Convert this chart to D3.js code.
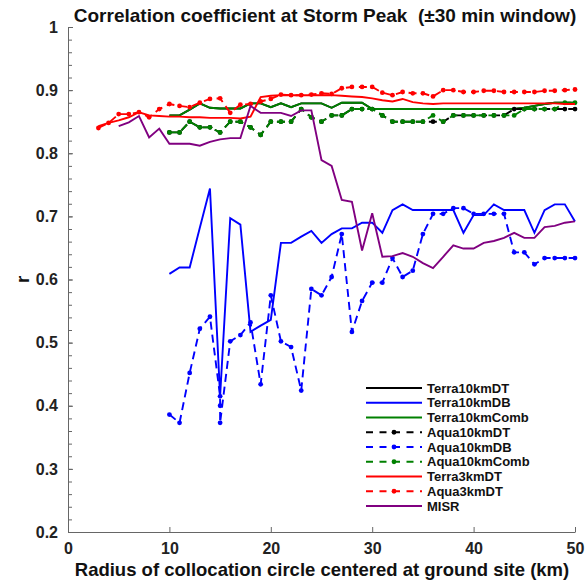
<!DOCTYPE html>
<html>
<head>
<meta charset="utf-8">
<script src="https://cdn.jsdelivr.net/npm/d3@7"></script>
<style>
  body { margin: 0; background: #fff; }
  text { font-family: "Liberation Sans", Arial, sans-serif; font-weight: bold; }
</style>
</head>
<body>
<svg></svg>
<script>
// values (r against collocation radius in km)
const kmFrom10 = d3.range(10, 51);
const kmFrom3 = d3.range(3, 51);
const kmFrom5 = d3.range(5, 51);
const kmAquaDB = [10, 11, 12, 13, 14, 15, 15, 15, 16, 17, 18, 19, 20, 21, 22, 23, 24, 25, 26, 27, 28, 29, 30,
  31, 32, 33, 34, 35, 36, 37, 38, 39, 40, 41, 42, 43, 44, 45, 46, 47, 48, 49, 50];

const terra10kmDT = [0.860, 0.860, 0.869, 0.879, 0.872, 0.871, 0.871, 0.871, 0.879, 0.879, 0.873, 0.879, 0.873, 0.879,
  0.879, 0.879, 0.872, 0.880, 0.880, 0.880, 0.870, 0.870, 0.870, 0.870, 0.870, 0.870, 0.870, 0.870, 0.870, 0.870,
  0.870, 0.870, 0.870, 0.870, 0.870, 0.872, 0.875, 0.878, 0.880, 0.880, 0.880];
const terra10kmDB = [0.609, 0.619, 0.619, 0.682, 0.744, 0.415, 0.697, 0.687, 0.517, 0.527, 0.536, 0.658, 0.658, 0.668,
  0.677, 0.658, 0.672, 0.681, 0.681, 0.690, 0.690, 0.674, 0.710, 0.719, 0.710, 0.710, 0.710, 0.710, 0.710, 0.674,
  0.702, 0.702, 0.719, 0.710, 0.710, 0.710, 0.674, 0.710, 0.719, 0.719, 0.692];
const terra10kmComb = [0.860, 0.860, 0.869, 0.879, 0.872, 0.871, 0.871, 0.871, 0.879, 0.879, 0.873, 0.879, 0.873, 0.879,
  0.879, 0.879, 0.872, 0.880, 0.880, 0.880, 0.870, 0.870, 0.870, 0.870, 0.870, 0.870, 0.870, 0.870, 0.870, 0.870,
  0.870, 0.870, 0.870, 0.870, 0.870, 0.872, 0.875, 0.878, 0.880, 0.880, 0.880];
const aqua10kmDT = [0.833, 0.833, 0.850, 0.841, 0.841, 0.833, 0.850, 0.850, 0.841, 0.829, 0.850, 0.850, 0.850, 0.870,
  0.857, 0.850, 0.860, 0.860, 0.870, 0.870, 0.870, 0.860, 0.850, 0.850, 0.850, 0.850, 0.850, 0.850, 0.860, 0.860,
  0.860, 0.860, 0.860, 0.860, 0.870, 0.870, 0.870, 0.870, 0.870, 0.870, 0.870];
const aqua10kmDB = [0.386, 0.373, 0.452, 0.522, 0.541, 0.415, 0.400, 0.373, 0.502, 0.512, 0.532, 0.434, 0.575, 0.502,
  0.493, 0.424, 0.585, 0.575, 0.604, 0.672, 0.517, 0.566, 0.595, 0.595, 0.634, 0.604, 0.614, 0.672, 0.704, 0.704,
  0.713, 0.713, 0.704, 0.704, 0.704, 0.704, 0.643, 0.643, 0.624, 0.634, 0.634, 0.634, 0.634];
const aqua10kmComb = [0.833, 0.833, 0.850, 0.841, 0.841, 0.833, 0.850, 0.850, 0.841, 0.829, 0.850, 0.850, 0.850, 0.870,
  0.857, 0.850, 0.860, 0.860, 0.870, 0.870, 0.870, 0.860, 0.850, 0.850, 0.850, 0.850, 0.860, 0.850, 0.860, 0.860,
  0.860, 0.860, 0.860, 0.860, 0.860, 0.870, 0.870, 0.870, 0.870, 0.880, 0.880];
const terra3kmDT = [0.843, 0.848, 0.852, 0.857, 0.865, 0.860, 0.859, 0.858, 0.858, 0.857, 0.857, 0.856, 0.856, 0.856,
  0.855, 0.858, 0.889, 0.891, 0.892, 0.892, 0.892, 0.892, 0.892, 0.892, 0.891, 0.890, 0.889, 0.887, 0.884, 0.882,
  0.886, 0.881, 0.879, 0.878, 0.879, 0.879, 0.879, 0.879, 0.879, 0.879, 0.879, 0.879, 0.879, 0.879, 0.879, 0.879,
  0.878, 0.878];
const aqua3kmDT = [0.840, 0.848, 0.862, 0.862, 0.865, 0.857, 0.870, 0.878, 0.875, 0.873, 0.880, 0.886, 0.887, 0.864,
  0.877, 0.878, 0.882, 0.886, 0.893, 0.892, 0.892, 0.893, 0.895, 0.894, 0.903, 0.905, 0.905, 0.905, 0.896, 0.892,
  0.897, 0.895, 0.895, 0.890, 0.900, 0.900, 0.897, 0.897, 0.899, 0.899, 0.897, 0.897, 0.897, 0.897, 0.899, 0.899,
  0.900, 0.901];
const misr = [0.843, 0.849, 0.859, 0.825, 0.839, 0.815, 0.815, 0.815, 0.812, 0.818, 0.822, 0.824, 0.824, 0.875,
  0.864, 0.864, 0.864, 0.859, 0.868, 0.868, 0.789, 0.780, 0.726, 0.723, 0.646, 0.705, 0.636, 0.637, 0.642, 0.636,
  0.626, 0.618, 0.636, 0.654, 0.649, 0.649, 0.658, 0.661, 0.666, 0.674, 0.666, 0.666, 0.683, 0.685, 0.690, 0.692];

const xTicks = [0, 10, 20, 30, 40, 50];
const yTicks = [0.2, 0.3, 0.4, 0.5, 0.6, 0.7, 0.8, 0.9, 1];

const width = 587, height = 581;
const plotLeft = 68, plotRight = 575, plotTop = 27, plotBottom = 532;
const lineW = 1.9, dotR = 2.4;

const series = [
  { name: "Terra10kmDT", xs: kmFrom10, ys: terra10kmDT, color: "#000000", dashed: false },
  { name: "Terra10kmDB", xs: kmFrom10, ys: terra10kmDB, color: "#0000ff", dashed: false },
  { name: "Terra10kmComb", xs: kmFrom10, ys: terra10kmComb, color: "#008000", dashed: false },
  { name: "Aqua10kmDT", xs: kmFrom10, ys: aqua10kmDT, color: "#000000", dashed: true },
  { name: "Aqua10kmDB", xs: kmAquaDB, ys: aqua10kmDB, color: "#0000ff", dashed: true },
  { name: "Aqua10kmComb", xs: kmFrom10, ys: aqua10kmComb, color: "#008000", dashed: true },
  { name: "Terra3kmDT", xs: kmFrom3, ys: terra3kmDT, color: "#ff0000", dashed: false },
  { name: "Aqua3kmDT", xs: kmFrom3, ys: aqua3kmDT, color: "#ff0000", dashed: true },
  { name: "MISR", xs: kmFrom5, ys: misr, color: "#800080", dashed: false }
];

var svg = d3.select("svg").attr("width", width).attr("height", height);

var x = d3.scaleLinear().domain([0, 50]).range([plotLeft, plotRight]);
var y = d3.scaleLinear().domain([0.2, 1]).range([plotBottom, plotTop]);

// minor y ticks every 0.02
svg.append("g")
  .attr("transform", `translate(${plotLeft},0)`)
  .call(d3.axisLeft(y).tickValues(d3.range(0.2, 1.001, 0.02)).tickSize(-4).tickSizeOuter(0).tickFormat(""))
  .call(g => g.selectAll("line").attr("stroke", "#666"))
  .call(g => g.select(".domain").remove());

var yAxis = svg.append("g")
  .attr("transform", `translate(${plotLeft},0)`)
  .call(d3.axisLeft(y).tickValues(yTicks).tickSize(-5).tickSizeOuter(0).tickPadding(10)
    .tickFormat(d => d === 1 ? "1" : d3.format(".1f")(d)));
yAxis.select(".domain").attr("stroke", "#666");
yAxis.selectAll("line").attr("stroke", "#666");
yAxis.selectAll("text").attr("font-size", 16).attr("fill", "#222");

var xAxis = svg.append("g")
  .attr("transform", `translate(0,${plotBottom})`)
  .call(d3.axisBottom(x).tickValues(xTicks).tickSize(-5).tickSizeOuter(0).tickPadding(11));
xAxis.select(".domain").attr("stroke", "#666");
xAxis.selectAll("line").attr("stroke", "#666");
xAxis.selectAll("text").attr("font-size", 16).attr("fill", "#222");

var line = d3.line().x(d => x(d[0])).y(d => y(d[1]));

series.forEach(s => {
  const pts = s.xs.map((v, i) => [v, s.ys[i]]);
  svg.append("path")
    .datum(pts)
    .attr("d", line)
    .attr("fill", "none")
    .attr("stroke", s.color)
    .attr("stroke-width", lineW)
    .attr("stroke-dasharray", s.dashed ? "8,5" : null);
  if (s.dashed) {
    svg.append("g").selectAll("circle")
      .data(pts)
      .enter().append("circle")
      .attr("cx", d => x(d[0]))
      .attr("cy", d => y(d[1]))
      .attr("r", dotR)
      .attr("fill", s.color);
  }
});

// legend, no frame
var legend = svg.append("g").attr("transform", "translate(366,388)");
series.forEach((s, i) => {
  const row = legend.append("g").attr("transform", `translate(0,${i * 14.75})`);
  row.append("line")
    .attr("x1", 0).attr("x2", 56)
    .attr("stroke", s.color)
    .attr("stroke-width", lineW)
    .attr("stroke-dasharray", s.dashed ? "7,6.5" : null);
  if (s.dashed) row.append("circle").attr("cx", 28).attr("r", dotR).attr("fill", s.color);
  row.append("text")
    .attr("x", 61).attr("dy", "0.36em")
    .attr("font-size", 13)
    .attr("fill", "#111")
    .text(s.name);
});

svg.append("text")
  .attr("x", 325).attr("y", 22)
  .attr("text-anchor", "middle")
  .attr("font-size", 19)
  .attr("fill", "#111")
  .style("white-space", "pre")
  .text("Correlation coefficient at Storm Peak  (\u00b130 min window)");

svg.append("text")
  .attr("x", 322).attr("y", 576)
  .attr("text-anchor", "middle")
  .attr("font-size", 18.5)
  .attr("fill", "#111")
  .text("Radius of collocation circle centered at ground site (km)");

svg.append("text")
  .attr("transform", `translate(22,${y(0.6)}) rotate(-90)`)
  .attr("text-anchor", "middle")
  .attr("dy", "0.36em")
  .attr("font-size", 18.5)
  .attr("fill", "#111")
  .text("r");
</script>
</body>
</html>
